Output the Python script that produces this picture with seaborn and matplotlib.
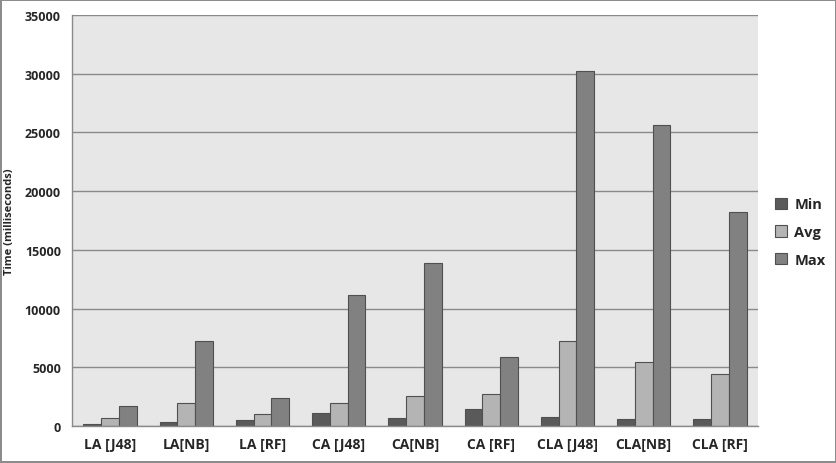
import matplotlib
matplotlib.use("Agg")
from matplotlib import pyplot as plt
import pandas as pd
import seaborn as sns

# 数据
categories = ["LA [J48]", "LA[NB]", "LA [RF]", "CA [J48]", "CA[NB]",
              "CA [RF]", "CLA [J48]", "CLA[NB]", "CLA [RF]"]
min_vals = [170, 370, 480, 1140, 650, 1450, 740, 600, 600]
avg_vals = [700, 1930, 1060, 2000, 2530, 2730, 7270, 5450, 4430]
max_vals = [1730, 7210, 2380, 11150, 13900, 5880, 30200, 25600, 18200]
series = ["Min", "Avg", "Max"]
colors = ["#5a5a5a", "#b4b4b4", "#818181"]

rows = []
for name, vals in zip(series, [min_vals, avg_vals, max_vals]):
    for c, v in zip(categories, vals):
        rows.append({"case": c, "stat": name, "time": v})
df = pd.DataFrame(rows)

sns.set_theme(style="white")
plt.rcParams['font.family'] = ['Open Sans', 'DejaVu Sans']
plt.rcParams['font.weight'] = 'bold'

fig = plt.figure(figsize=(8.37, 4.64), dpi=100, edgecolor="#8c8c8c", linewidth=1.5)
ax = fig.add_axes([72 / 837, 1 - 427 / 464, (758 - 72) / 837, (427 - 16) / 464])
ax.set_facecolor("#e7e7e7")

sns.barplot(data=df, x="case", y="time", hue="stat", hue_order=series,
            palette=colors, width=0.7, edgecolor="#505050", linewidth=0.8,
            saturation=1, ax=ax)

ax.set_ylim(0, 35000)
ax.set_xlim(-0.5, len(categories) - 0.5)
ax.set_yticks(range(0, 35001, 5000))
ax.yaxis.grid(True, color="#8a8a8a", linewidth=1)
ax.set_axisbelow(True)
for s in ["top", "right"]:
    ax.spines[s].set_visible(False)
for s in ["left", "bottom"]:
    ax.spines[s].set_color("#8a8a8a")
    ax.spines[s].set_linewidth(1)

# x 轴刻度放在类别之间
ax.set_xticks(range(len(categories)))
ax.set_xticklabels(categories, fontsize=10, fontweight="bold")
ax.set_xticks([i + 0.5 for i in range(-1, len(categories))], minor=True)
ax.tick_params(axis="x", which="major", length=0, pad=8)
ax.tick_params(axis="x", which="minor", length=5, color="#8a8a8a", width=1)
ax.tick_params(axis="y", length=5, color="#8a8a8a", width=1, labelsize=9, pad=3)
for lab in ax.get_yticklabels():
    lab.set_fontweight("bold")

ax.set_xlabel("")
ax.set_ylabel("Time (milliseconds)", fontsize=8, fontweight="bold")
ax.yaxis.set_label_coords(-0.083, 0.5)

leg = ax.legend(loc="center left", bbox_to_anchor=(1.006, 0.472), frameon=False,
                fontsize=10.5, handlelength=0.8, handleheight=0.8,
                labelspacing=0.95, handletextpad=0.5)
for t in leg.get_texts():
    t.set_fontweight("bold")

plt.savefig("out.png", dpi=100, edgecolor=fig.get_edgecolor())
